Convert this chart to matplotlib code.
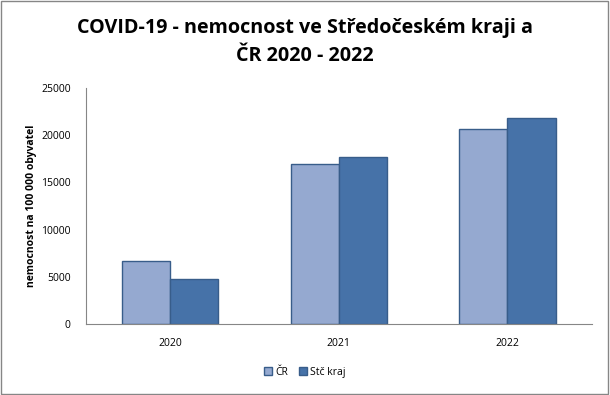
import matplotlib.pyplot as plt
import numpy as np

years = ['2020', '2021', '2022']
cr = [6650, 16950, 20650]
stc = [4750, 17700, 21800]
series_labels = ['ČR', 'Stč kraj']

plt.rcParams['font.family'] = ['Open Sans', 'DejaVu Sans']

fig = plt.figure(figsize=(6.1, 3.95), dpi=100)
ax = fig.add_axes([0.141, 0.180, 0.829, 0.597])

x = np.arange(len(years))
w = 0.2857
ax.bar(x - w / 2, cr, w, color='#95A9D0', edgecolor='#385D8A', linewidth=1, label=series_labels[0])
ax.bar(x + w / 2, stc, w, color='#4672A8', edgecolor='#385D8A', linewidth=1, label=series_labels[1])

ax.set_xlim(-0.5, 2.5)
ax.set_ylim(0, 25000)
ax.set_yticks(range(0, 25001, 5000))
ax.set_xticks(x)
ax.set_xticklabels(years)
ax.tick_params(length=0, labelsize=7.5, pad=10)
ax.tick_params(axis='y', pad=11)
for s in ['top', 'right']:
    ax.spines[s].set_visible(False)
for s in ['left', 'bottom']:
    ax.spines[s].set_color('#868686')
ax.set_ylabel('nemocnost na 100 000 obyvatel', fontsize=7.5, fontweight='bold', labelpad=3)

fig.suptitle('COVID-19 - nemocnost ve Středočeském kraji a\nČR 2020 - 2022',
             fontsize=14.2, fontweight='bold', y=0.955, linespacing=1.55)

fig.legend(loc='lower center', bbox_to_anchor=(0.5, 0.02), ncol=2, frameon=False,
           fontsize=7.5, handlelength=0.8, handleheight=0.8, handletextpad=0.3, columnspacing=1.0)

border = plt.Rectangle((0.002, 0.003), 0.995, 0.994, transform=fig.transFigure,
                       fill=False, edgecolor='#868686', linewidth=1)
fig.patches.append(border)

fig.savefig('out.png', dpi=100)
